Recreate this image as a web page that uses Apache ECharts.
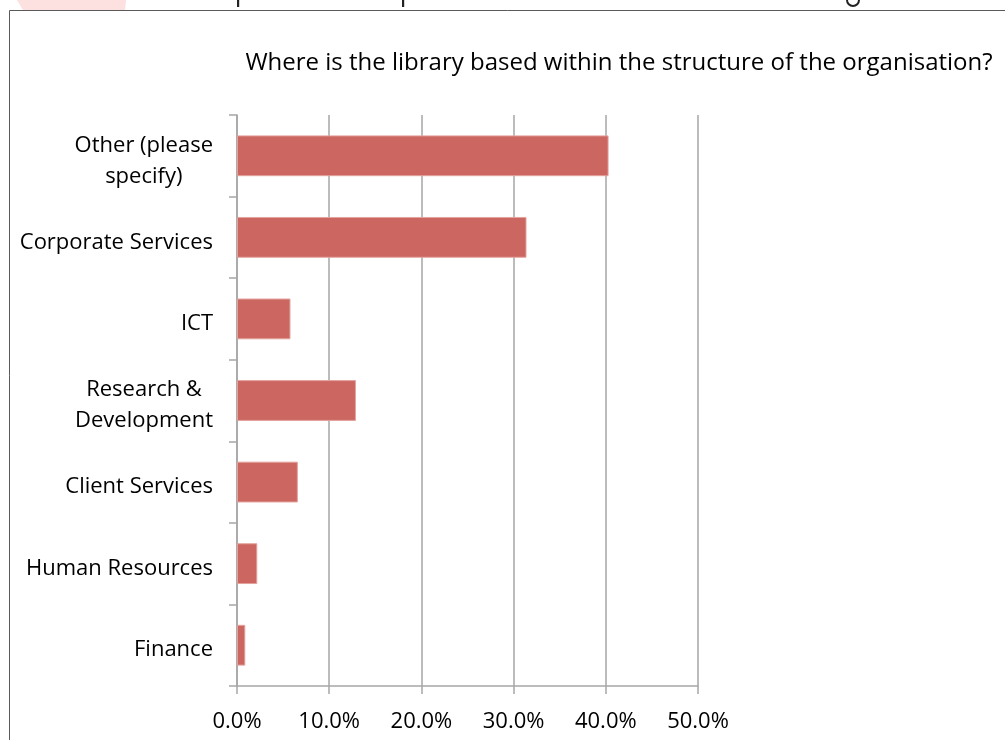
<!DOCTYPE html>
<html>
<head>
<meta charset="utf-8">
<title>Library location within the organisation</title>
<script src="https://cdn.jsdelivr.net/npm/echarts@6/dist/echarts.min.js"></script>
<style>
  html, body { margin: 0; padding: 0; background: #ffffff; }
  #chart { width: 1005px; height: 740px; }
</style>
</head>
<body>
<div id="chart"></div>
<script>
// Survey answers: where the library sits in the organisation (share of respondents)
const categories = [
  'Other (please\nspecify)',
  'Corporate Services',
  'ICT',
  'Research &\nDevelopment',
  'Client Services',
  'Human Resources',
  'Finance'
];
const shares = [0.403, 0.314, 0.058, 0.129, 0.066, 0.022, 0.009];
const xTickLabels = ['0.0%', '10.0%', '20.0%', '30.0%', '40.0%', '50.0%'];
const chartTitle = 'Where is the library based within the structure of the organisation?';

const FONT = '"Open Sans", "Liberation Sans", sans-serif';
const GRID_GRAY = '#a6a6a6';

const chart = echarts.init(document.getElementById('chart'), null, { renderer: 'canvas' });

chart.setOption({
  animation: false,
  backgroundColor: '#ffffff',
  title: {
    text: chartTitle,
    left: 614,
    top: 46,
    textAlign: 'center',
    textStyle: { fontFamily: FONT, fontSize: 24, fontWeight: 'normal', color: '#000000' }
  },
  grid: { left: 237, right: 307, top: 115, bottom: 54, containLabel: false },
  xAxis: {
    type: 'value',
    min: 0,
    max: 0.5,
    interval: 0.1,
    axisLine: { show: true, lineStyle: { color: GRID_GRAY, width: 1.5 } },
    axisTick: { show: true, length: 8, lineStyle: { color: GRID_GRAY, width: 1.5 } },
    splitLine: { show: true, lineStyle: { color: GRID_GRAY, width: 1.5 } },
    axisLabel: {
      margin: 25,
      fontFamily: FONT,
      fontSize: 22,
      color: '#000000',
      formatter: (v) => xTickLabels[Math.round(v / 0.1)]
    }
  },
  yAxis: {
    type: 'category',
    inverse: true,
    data: categories,
    axisLine: { show: true, lineStyle: { color: GRID_GRAY, width: 1.5 } },
    axisTick: { show: true, length: 8, lineStyle: { color: GRID_GRAY, width: 1.5 } },
    splitLine: { show: false },
    axisLabel: {
      margin: 24,
      padding: [10, 0, 0, 0],
      color: '#000000',
      fontFamily: FONT,
      fontSize: 22,
      lineHeight: 31,
      formatter: (v) => v.split('\n').map((line) => '{c|' + line + '}').join('\n'),
      rich: {
        c: { align: 'center', fontFamily: FONT, fontSize: 22, lineHeight: 31, color: '#000000' }
      }
    }
  },
  series: [{
    type: 'bar',
    data: shares,
    barCategoryGap: '50%',
    itemStyle: { color: '#cc6660', borderColor: '#e3a29d', borderWidth: 1 }
  }],
  graphic: [
    // frame of the surrounding slide panel
    {
      type: 'polyline',
      silent: true,
      shape: { points: [[9.5, 740], [9.5, 10.5], [1005, 10.5]] },
      style: { stroke: '#5a5a5a', lineWidth: 1, fill: null }
    },
    // pink banner tab above the panel
    {
      type: 'polygon',
      silent: true,
      shape: { points: [[17, 0], [126, 0], [125, 10], [23, 10]] },
      style: { fill: '#fde0e0' }
    },
    // descenders of the heading line above the panel
    { type: 'rect', silent: true, shape: { x: 237, y: 0, width: 2.2, height: 7 }, style: { fill: '#222222' } },
    { type: 'rect', silent: true, shape: { x: 402, y: 0, width: 2.2, height: 7 }, style: { fill: '#222222' } },
    {
      type: 'arc',
      silent: true,
      shape: { cx: 853, cy: 0, r: 6, startAngle: 0, endAngle: Math.PI },
      style: { stroke: '#222222', lineWidth: 2, fill: null }
    }
  ]
});
</script>
</body>
</html>
